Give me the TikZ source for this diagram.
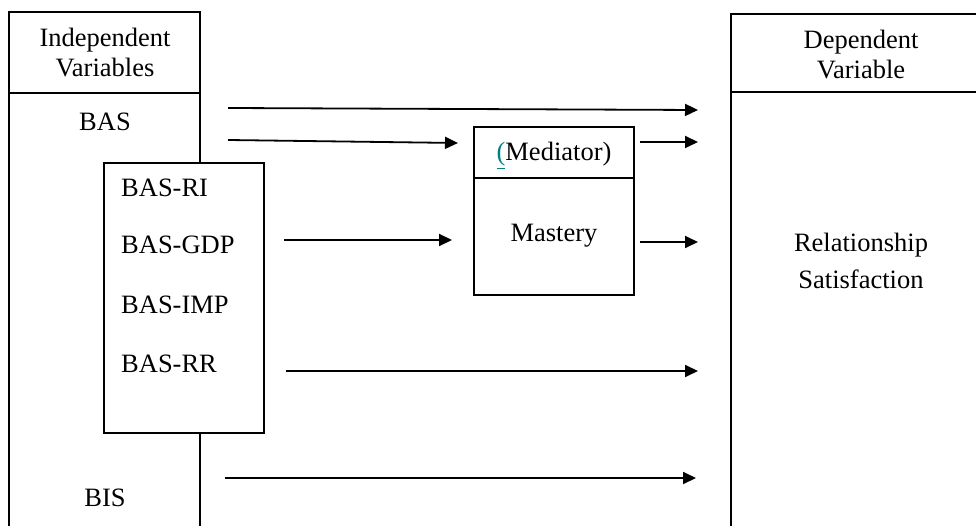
\documentclass[tikz,border=0pt]{standalone}
\usepackage{fontspec}
\setmainfont{Liberation Serif}
\usetikzlibrary{arrows.meta}
\definecolor{linkteal}{RGB}{0,128,128}
\begin{document}
\begin{tikzpicture}[x=1pt,y=-1pt,
  txt/.style={inner sep=0pt,font=\fontsize{26.5}{30}\selectfont,anchor=base},
  heavy/.style={line width=2pt},
  light/.style={line width=1.3pt},
  arr/.style={line width=1.8pt,-{Triangle[length=13pt,width=12pt]}}]
\useasboundingbox (0,0) rectangle (976,526);
% left open box
\draw[heavy] (9,540) -- (9,12) -- (200,12) -- (200,540);
\draw[heavy] (9,93) -- (200,93);
% right open box
\draw[heavy] (731,540) -- (731,14) -- (990,14);
\draw[heavy] (731,92) -- (990,92);
% inner BAS box
\node[light,draw,fill=white,minimum width=160pt,minimum height=270pt,inner sep=0pt] (basbox) at (184,298) {};
% mediator box
\node[light,draw,minimum width=160pt,minimum height=168pt,inner sep=0pt] (medbox) at (554,211) {};
\draw[light] (474,178) -- (634,178);
% texts
\node[txt] (indep1) at (105,47) {Independent};
\node[txt] (indep2) at (105,77) {Variables};
\node[txt] (bas) at (105,131) {BAS};
\node[txt,anchor=base west] (ri) at (121,197) {BAS-RI};
\node[txt,anchor=base west] (gdp) at (121,254) {BAS-GDP};
\node[txt,anchor=base west] (imp) at (121,313) {BAS-IMP};
\node[txt,anchor=base west] (rr) at (121,372) {BAS-RR};
\node[txt] (bis) at (105,506) {BIS};
\node[txt] (med) at (554,161) {\textcolor{linkteal}{\underline{(}}Mediator)};
\node[txt] (mast) at (554,242) {Mastery};
\node[txt] (dep1) at (861,49) {Dependent};
\node[txt] (dep2) at (861,79) {Variable};
\node[txt] (rel1) at (861,252) {Relationship};
\node[txt] (rel2) at (861,288) {Satisfaction};
% arrow end points
\coordinate (s1) at (228,108); \coordinate (e1) at (698,110);
\coordinate (s2) at (228,140); \coordinate (e2) at (458,143);
\coordinate (s3) at (640,142); \coordinate (e3) at (698,142);
\coordinate (s4) at (284,240); \coordinate (e4) at (452,240);
\coordinate (s5) at (640,242); \coordinate (e5) at (698,242);
\coordinate (s6) at (286,371); \coordinate (e6) at (698,371);
\coordinate (s7) at (225,478); \coordinate (e7) at (696,478);
\draw[arr] (s1) -- (e1);
\draw[arr] (s2) -- (e2);
\draw[arr] (s3) -- (e3);
\draw[arr] (s4) -- (e4);
\draw[arr] (s5) -- (e5);
\draw[arr] (s6) -- (e6);
\draw[arr] (s7) -- (e7);
\end{tikzpicture}
\end{document}
